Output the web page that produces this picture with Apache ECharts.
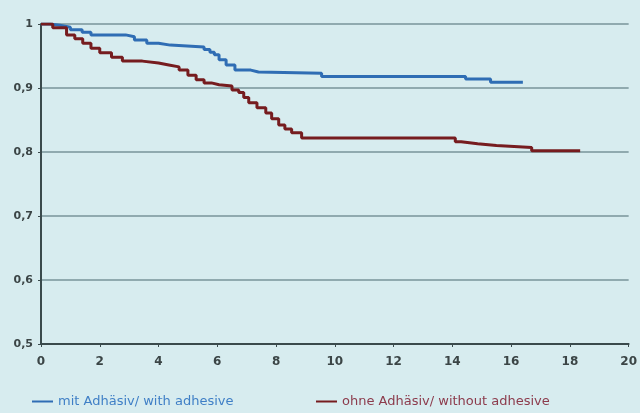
<!DOCTYPE html>
<html>
<head>
<meta charset="utf-8">
<script src="https://cdn.jsdelivr.net/npm/echarts@6/dist/echarts.min.js"></script>
<style>
html,body{margin:0;padding:0;background:#d7ecef;}
#c{width:640px;height:413px;}
</style>
</head>
<body>
<div id="c"></div>
<script>
const seriesNames = ['mit Adhäsiv/ with adhesive', 'ohne Adhäsiv/ without adhesive'];
const xTicks = [0, 2, 4, 6, 8, 10, 12, 14, 16, 18, 20];
const yTicks = [0.5, 0.6, 0.7, 0.8, 0.9, 1];

const withTime = [0, 0.3, 0.64, 1.0, 1.4, 1.7, 2.88, 3.18, 3.6, 4.0, 4.4, 5.55, 5.75, 5.9, 6.06, 6.3, 6.6, 7.14, 7.4, 9.55, 14.45, 15.3, 16.4];
const withSurv = [1.0, 0.998, 0.995, 0.991, 0.987, 0.983, 0.980, 0.975, 0.970, 0.967, 0.964, 0.960, 0.956, 0.952, 0.944, 0.936, 0.928, 0.925, 0.923, 0.918, 0.914, 0.909, 0.909];

const withoutTime = [0, 0.4, 0.87, 1.15, 1.42, 1.7, 2.0, 2.4, 2.77, 3.45, 4.0, 4.35, 4.7, 5.0, 5.28, 5.55, 5.8, 6.06, 6.5, 6.73, 6.9, 7.07, 7.35, 7.65, 7.85, 8.09, 8.3, 8.53, 8.87, 14.1, 14.3, 14.86, 15.5, 16.7, 18.35];
const withoutSurv = [1.0, 0.994, 0.983, 0.977, 0.970, 0.962, 0.955, 0.948, 0.942, 0.939, 0.936, 0.933, 0.928, 0.920, 0.913, 0.908, 0.905, 0.903, 0.897, 0.893, 0.885, 0.877, 0.869, 0.861, 0.852, 0.842, 0.836, 0.830, 0.822, 0.816, 0.813, 0.810, 0.807, 0.802, 0.802];

const chart = echarts.init(document.getElementById('c'), null, {renderer: 'canvas'});
const fontFam = 'DejaVu Sans';
chart.setOption({
  backgroundColor: '#d7ecef',
  animation: false,
  grid: {left: 41, right: 8, top: 24, bottom: 69},
  legend: [
    {
      data: [{name: seriesNames[0], textStyle: {color: '#3f7fc6'}}],
      left: 27, top: 390,
      icon: 'rect', itemWidth: 21, itemHeight: 2,
      textStyle: {fontFamily: fontFam, fontSize: 13},
      selectedMode: false
    },
    {
      data: [{name: seriesNames[1], textStyle: {color: '#8c3b4c'}}],
      left: 311, top: 390,
      icon: 'rect', itemWidth: 21, itemHeight: 2,
      textStyle: {fontFamily: fontFam, fontSize: 13},
      selectedMode: false
    }
  ],
  xAxis: {
    type: 'value', min: xTicks[0], max: xTicks[xTicks.length - 1], interval: 2,
    axisLine: {lineStyle: {color: '#3a4a4c', width: 2}},
    axisTick: {show: true, length: 3, lineStyle: {color: '#3a4a4c'}},
    axisLabel: {color: '#3b4546', fontFamily: fontFam, fontSize: 12, fontWeight: 'bold', margin: 12},
    splitLine: {show: false}
  },
  yAxis: {
    type: 'value', min: yTicks[0], max: yTicks[yTicks.length - 1], interval: 0.1,
    axisLine: {show: true, lineStyle: {color: '#3a4a4c', width: 2}},
    axisTick: {show: true, length: 3, lineStyle: {color: '#3a4a4c'}},
    axisLabel: {color: '#3b4546', fontFamily: fontFam, fontSize: 11, fontWeight: 'bold', margin: 8,
      formatter: v => (Math.round(v * 10) / 10 === 1 ? '1' : (Math.round(v * 10) / 10).toFixed(1).replace('.', ','))},
    splitLine: {show: true, lineStyle: {color: '#78949a', width: 1.5}}
  },
  series: [
    {
      name: seriesNames[0], type: 'line', step: 'end', symbol: 'none',
      data: withTime.map((t, i) => [t, withSurv[i]]),
      lineStyle: {color: '#2f6db4', width: 3},
      itemStyle: {color: '#2f6db4'}, z: 3
    },
    {
      name: seriesNames[1], type: 'line', step: 'end', symbol: 'none',
      data: withoutTime.map((t, i) => [t, withoutSurv[i]]),
      lineStyle: {color: '#761c1f', width: 3},
      itemStyle: {color: '#761c1f'}, z: 4
    }
  ]
});
</script>
</body>
</html>
